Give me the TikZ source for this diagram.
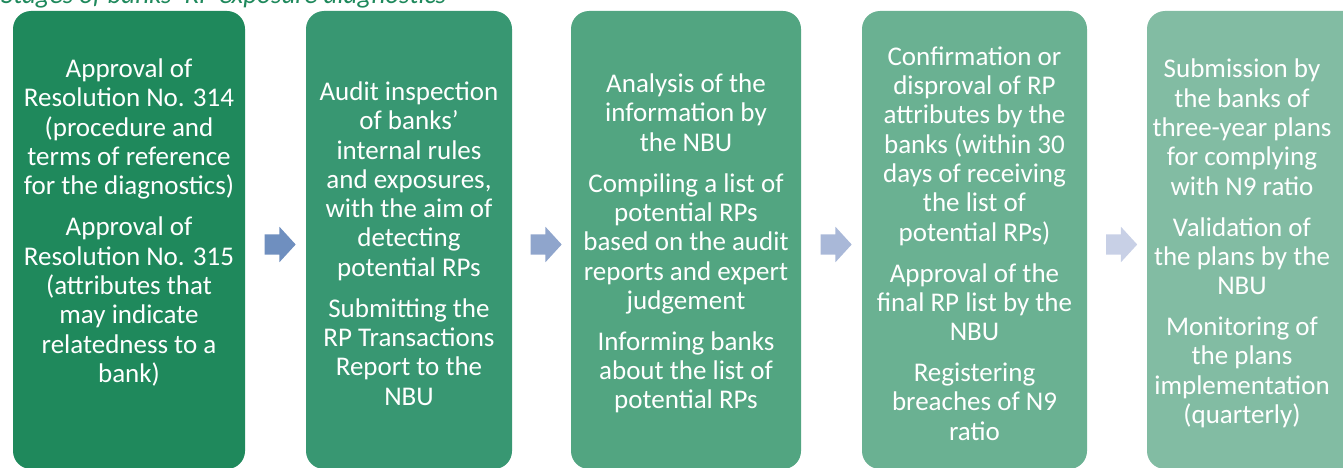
\documentclass[tikz,border=0pt]{standalone}
\usepackage{fontspec}
\setmainfont{Carlito}
\usetikzlibrary{shapes.arrows, positioning, calc}
\definecolor{stageA}{RGB}{31,137,92}
\definecolor{stageB}{RGB}{56,151,114}
\definecolor{stageC}{RGB}{82,165,129}
\definecolor{stageD}{RGB}{106,177,146}
\definecolor{stageE}{RGB}{130,188,163}
\definecolor{arrowA}{RGB}{111,143,191}
\definecolor{arrowB}{RGB}{143,165,204}
\definecolor{arrowC}{RGB}{169,184,216}
\definecolor{arrowD}{RGB}{200,208,230}

\begin{document}
\begin{tikzpicture}[x=1pt, y=-1pt,
    stage/.style={rounded corners=18pt, minimum height=458pt, inner sep=0pt},
    stagetext/.style={text=white, align=center, inner sep=0pt,
      font=\fontsize{27}{29.3}\selectfont},
    blockarrow/.style={single arrow, single arrow head extend=7.5pt,
      single arrow tip angle=95, minimum height=31pt,
      inner xsep=0pt, inner ysep=10pt}]
  \clip (0,0) rectangle (1343,468);
  % Title (cut off at the top)
  \node[anchor=base west, inner sep=0pt, text=stageA,
    font=\fontsize{27}{30}\selectfont\itshape] (title) at (1,3.5)
    {Stages of banks’ RP exposure diagnostics};

  % Stage boxes
  \node[stage, fill=stageA, minimum width=232pt] (s1) at (129,240) {};
  \node[stage, fill=stageB, minimum width=206pt] (s2) at (409,240) {};
  \node[stage, fill=stageC, minimum width=230pt] (s3) at (686,240) {};
  \node[stage, fill=stageD, minimum width=225pt] (s4) at (974.5,240) {};
  \node[stage, fill=stageE, minimum width=215pt] (s5) at (1254.5,240) {};

  % Texts of the stages
  \node[stagetext] (t1) at (129,222.5) {Approval of\\Resolution No. 314\\(procedure and\\terms of reference\\for the diagnostics)\\[11.7pt]
    Approval of\\Resolution No. 315\\(attributes that\\may indicate\\relatedness to a\\bank)};
  \node[stagetext] (t2) at (409,243.5) {Audit inspection\\of banks’\\internal rules\\and exposures,\\with the aim of\\detecting\\potential RPs\\[11.7pt]
    Submitting the\\RP Transactions\\Report to the\\NBU};
  \node[stagetext] (t3) at (686,243.5) {Analysis of the\\information by\\the NBU\\[11.7pt]
    Compiling a list of\\potential RPs\\based on the audit\\reports and expert\\judgement\\[11.7pt]
    Informing banks\\about the list of\\potential RPs};
  \node[stagetext] (t4) at (974.5,243.5) {Confirmation or\\disproval of RP\\attributes by the\\banks (within 30\\days of receiving\\the list of\\potential RPs)\\[11.7pt]
    Approval of the\\final RP list by the\\NBU\\[11.7pt]
    Registering\\breaches of N9\\ratio};
  \node[stagetext] (t5) at (1242,243.5) {Submission by\\the banks of\\three-year plans\\for complying\\with N9 ratio\\[11.7pt]
    Validation of\\the plans by the\\NBU\\[11.7pt]
    Monitoring of\\the plans\\implementation\\(quarterly)};

  % Arrows between the boxes
  \node[blockarrow, fill=arrowA, yshift=-4.5pt] (a1) at ($(s1.east)!0.5!(s2.west)$) {};
  \node[blockarrow, fill=arrowB, yshift=-4.5pt] (a2) at ($(s2.east)!0.5!(s3.west)$) {};
  \node[blockarrow, fill=arrowC, yshift=-4.5pt] (a3) at ($(s3.east)!0.5!(s4.west)$) {};
  \node[blockarrow, fill=arrowD, yshift=-4.5pt] (a4) at ($(s4.east)!0.5!(s5.west)$) {};
\end{tikzpicture}
\end{document}
